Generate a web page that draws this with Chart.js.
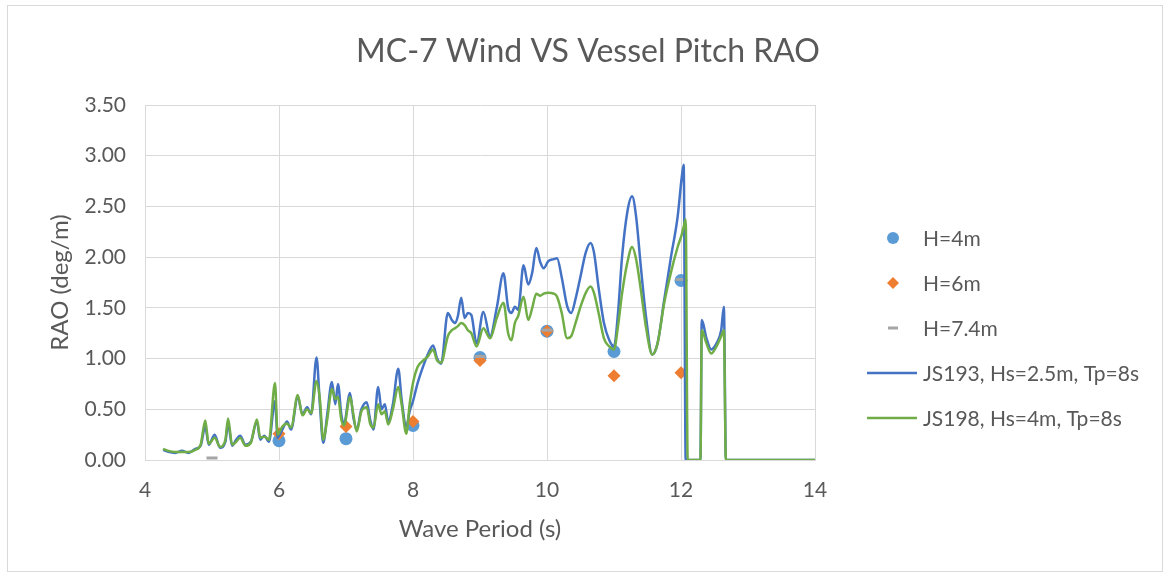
<!DOCTYPE html>
<html>
<head>
<meta charset="utf-8">
<title>MC-7 Wind VS Vessel Pitch RAO</title>
<script src="https://cdn.jsdelivr.net/npm/chart.js@4.4.1/dist/chart.umd.min.js"></script>
<style>
    html, body { margin: 0; padding: 0; background: #fff; }
    #wrap { width: 1170px; height: 576px; }
</style>
</head>
<body>
<div id="wrap"><canvas id="raoChart" width="1170" height="576"></canvas></div>
<script>
// wave period (s) for the two simulation curves
const waveT = [
    4.27, 4.35, 4.45, 4.55, 4.65, 4.75, 4.83, 4.90, 4.95, 5.04,
    5.12, 5.20, 5.24, 5.30, 5.36, 5.42, 5.50, 5.58, 5.67, 5.72,
    5.78, 5.85, 5.94, 5.98, 6.05, 6.12, 6.18, 6.28, 6.35, 6.42,
    6.48, 6.56, 6.61, 6.66, 6.72, 6.79, 6.84, 6.88, 6.93, 6.97,
    7.06, 7.11, 7.16, 7.23, 7.31, 7.36, 7.41, 7.48, 7.53, 7.58,
    7.63, 7.70, 7.78, 7.83, 7.90, 7.95, 8.00, 8.07, 8.15, 8.22,
    8.30, 8.36, 8.42, 8.52, 8.58, 8.63, 8.67, 8.72, 8.77, 8.82,
    8.87, 8.95, 9.05, 9.15, 9.25, 9.35, 9.42, 9.47, 9.52, 9.57,
    9.65, 9.72, 9.78, 9.84, 9.90, 9.95, 10.02, 10.10, 10.15, 10.22,
    10.30, 10.36, 10.43, 10.50, 10.58, 10.65, 10.70, 10.77, 10.85, 10.93,
    11.00, 11.06, 11.12, 11.20, 11.27, 11.33, 11.40, 11.48, 11.57, 11.65,
    11.75, 11.85, 11.95, 12.01, 12.04, 12.07, 12.10, 12.29, 12.31, 12.38,
    12.45, 12.53, 12.60, 12.64, 12.67, 14.00
];
const raoJS193 = [
    0.10, 0.08, 0.07, 0.09, 0.07, 0.11, 0.14, 0.33, 0.15, 0.25,
    0.12, 0.18, 0.36, 0.14, 0.20, 0.24, 0.15, 0.18, 0.38, 0.20,
    0.24, 0.18, 0.58, 0.22, 0.30, 0.38, 0.30, 0.62, 0.45, 0.52,
    0.45, 1.01, 0.55, 0.17, 0.45, 0.77, 0.55, 0.75, 0.45, 0.36,
    0.66, 0.42, 0.30, 0.50, 0.57, 0.40, 0.30, 0.72, 0.50, 0.55,
    0.38, 0.55, 0.90, 0.60, 0.33, 0.48, 0.58, 0.76, 0.92, 1.04,
    1.13, 1.00, 0.95, 1.45, 1.38, 1.35, 1.42, 1.60, 1.40, 1.45,
    1.43, 1.15, 1.46, 1.22, 1.50, 1.84, 1.50, 1.45, 1.51, 1.48,
    1.92, 1.73, 1.85, 2.09, 1.95, 1.89, 1.96, 1.98, 1.99, 1.80,
    1.52, 1.45, 1.60, 1.81, 2.05, 2.14, 2.05, 1.70, 1.35, 1.18,
    1.12, 1.45, 2.00, 2.45, 2.60, 2.40, 1.91, 1.40, 1.04, 1.15,
    1.58, 2.00, 2.40, 2.78, 2.91, 0.00, 0.00, 0.00, 1.38, 1.20,
    1.09, 1.15, 1.28, 1.51, 0.00, 0.00
];
const raoJS198 = [
    0.11, 0.09, 0.08, 0.08, 0.08, 0.10, 0.15, 0.39, 0.16, 0.22,
    0.13, 0.20, 0.41, 0.15, 0.18, 0.22, 0.14, 0.17, 0.40, 0.22,
    0.23, 0.20, 0.76, 0.25, 0.33, 0.36, 0.32, 0.64, 0.44, 0.50,
    0.46, 0.78, 0.60, 0.20, 0.40, 0.70, 0.60, 0.62, 0.40, 0.34,
    0.62, 0.45, 0.28, 0.48, 0.52, 0.36, 0.32, 0.55, 0.45, 0.48,
    0.35, 0.50, 0.72, 0.55, 0.26, 0.55, 0.76, 0.92, 0.98, 1.02,
    1.09, 0.98, 0.96, 1.22, 1.28, 1.30, 1.32, 1.35, 1.33, 1.28,
    1.25, 1.12, 1.30, 1.20, 1.40, 1.55, 1.25, 1.18, 1.35, 1.42,
    1.61, 1.38, 1.50, 1.64, 1.62, 1.64, 1.65, 1.64, 1.61, 1.45,
    1.20, 1.22, 1.36, 1.51, 1.65, 1.71, 1.65, 1.45, 1.20, 1.12,
    1.09, 1.32, 1.64, 1.95, 2.10, 1.98, 1.68, 1.30, 1.04, 1.15,
    1.55, 1.85, 2.10, 2.22, 2.30, 2.37, 0.00, 0.00, 1.28, 1.15,
    1.05, 1.12, 1.22, 1.28, 0.00, 0.00
];

// model test results
const testT = [5, 6, 7, 8, 9, 10, 11, 12];
const raoH4 = [null, 0.19, 0.21, 0.34, 1.01, 1.27, 1.07, 1.77];
const raoH6 = [null, 0.26, 0.33, 0.38, 0.98, 1.27, 0.83, 0.86];
const raoH74 = [0.02, null, null, null, 1.02, 1.28, null, 1.78];

const xTicks = [4, 6, 8, 10, 12, 14];
const yTicks = [0, 0.5, 1, 1.5, 2, 2.5, 3, 3.5];

const textColor = '#595959';
const gridColor = '#D9D9D9';
const fontName = 'Lato, "Open Sans", sans-serif';

function toPoints(xs, ys) {
    return xs.map((x, i) => ({ x: x, y: ys[i] })).filter(p => p.y !== null);
}

// frame, title and the legend on the right
const chartDecor = {
    id: 'chartDecor',
    beforeDraw(chart) {
        const ctx = chart.ctx;
        ctx.save();
        ctx.fillStyle = '#fff';
        ctx.fillRect(0, 0, chart.width, chart.height);
        ctx.strokeStyle = gridColor;
        ctx.lineWidth = 1;
        ctx.strokeRect(7.5, 5.5, chart.width - 15, chart.height - 10);
        ctx.restore();
    },
    afterDraw(chart) {
        const ctx = chart.ctx;
        ctx.save();
        ctx.fillStyle = textColor;
        ctx.font = '32px ' + fontName;
        ctx.textAlign = 'center';
        ctx.textBaseline = 'middle';
        ctx.fillText('MC-7 Wind VS Vessel Pitch RAO', 588, 52);

        ctx.font = '21px ' + fontName;
        ctx.textAlign = 'left';
        chart.data.datasets.forEach((ds, i) => {
            const y = 238 + i * 45;
            const cx = 893;
            ctx.fillStyle = ds.backgroundColor;
            ctx.strokeStyle = ds.borderColor;
            if (ds.type === 'line') {
                ctx.lineWidth = 2.5;
                ctx.beginPath();
                ctx.moveTo(867, y);
                ctx.lineTo(917, y);
                ctx.stroke();
            } else if (ds.pointStyle === 'circle') {
                ctx.beginPath();
                ctx.arc(cx, y, 6, 0, Math.PI * 2);
                ctx.fill();
            } else if (ds.pointStyle === 'rectRot') {
                ctx.beginPath();
                ctx.moveTo(cx, y - 6);
                ctx.lineTo(cx + 6, y);
                ctx.lineTo(cx, y + 6);
                ctx.lineTo(cx - 6, y);
                ctx.closePath();
                ctx.fill();
            } else {
                ctx.lineWidth = 3;
                ctx.beginPath();
                ctx.moveTo(cx - 5, y);
                ctx.lineTo(cx + 5, y);
                ctx.stroke();
            }
            ctx.fillStyle = textColor;
            ctx.fillText(ds.label, 923, y + 1);
        });
        ctx.restore();
    }
};

const ctx = document.getElementById('raoChart').getContext('2d');
window.raoChart = new Chart(ctx, {
    type: 'scatter',
    data: {
        datasets: [{
            label: 'H=4m',
            data: toPoints(testT, raoH4),
            order: 5,
            pointStyle: 'circle',
            pointRadius: 6.5,
            backgroundColor: '#5B9BD5',
            borderColor: '#5B9BD5',
            borderWidth: 0
        }, {
            label: 'H=6m',
            data: toPoints(testT, raoH6),
            order: 4,
            pointStyle: 'rectRot',
            pointRadius: 6.5,
            backgroundColor: '#ED7D31',
            borderColor: '#ED7D31',
            borderWidth: 0
        }, {
            label: 'H=7.4m',
            data: toPoints(testT, raoH74),
            order: 3,
            pointStyle: 'line',
            pointRadius: 5.5,
            backgroundColor: '#A5A5A5',
            borderColor: '#A5A5A5',
            borderWidth: 3
        }, {
            type: 'line',
            label: 'JS193, Hs=2.5m, Tp=8s',
            data: toPoints(waveT, raoJS193),
            order: 2,
            borderColor: '#4472C4',
            backgroundColor: '#4472C4',
            borderWidth: 2.5,
            pointRadius: 0,
            cubicInterpolationMode: 'monotone',
            fill: false
        }, {
            type: 'line',
            label: 'JS198, Hs=4m, Tp=8s',
            data: toPoints(waveT, raoJS198),
            order: 1,
            borderColor: '#70AD47',
            backgroundColor: '#70AD47',
            borderWidth: 2.5,
            pointRadius: 0,
            cubicInterpolationMode: 'monotone',
            fill: false
        }]
    },
    options: {
        responsive: false,
        animation: false,
        devicePixelRatio: 1,
        layout: { padding: { left: 45, right: 355, top: 105, bottom: 32 } },
        plugins: {
            legend: { display: false },
            title: { display: false },
            tooltip: { enabled: false }
        },
        scales: {
            x: {
                type: 'linear',
                min: 4,
                max: 14,
                afterFit: scale => { scale.height = 84; },
                afterBuildTicks: scale => { scale.ticks = xTicks.map(v => ({ value: v })); },
                ticks: { color: textColor, font: { family: fontName, size: 21 }, padding: 18 },
                grid: { color: gridColor, drawTicks: false },
                border: { color: gridColor },
                title: {
                    display: true,
                    text: 'Wave Period (s)',
                    color: textColor,
                    font: { family: fontName, size: 24 },
                    padding: { top: 0, bottom: 0 }
                }
            },
            y: {
                min: 0,
                max: 3.5,
                afterFit: scale => { scale.width = 100; },
                afterBuildTicks: scale => { scale.ticks = yTicks.map(v => ({ value: v })); },
                ticks: {
                    color: textColor,
                    font: { family: fontName, size: 21 },
                    padding: 19,
                    callback: v => v.toFixed(2)
                },
                grid: { color: gridColor, drawTicks: false },
                border: { color: gridColor },
                title: {
                    display: true,
                    text: 'RAO (deg/m)',
                    color: textColor,
                    font: { family: fontName, size: 24 },
                    padding: { top: 1, bottom: 0 }
                }
            }
        }
    },
    plugins: [chartDecor]
});
</script>
</body>
</html>
